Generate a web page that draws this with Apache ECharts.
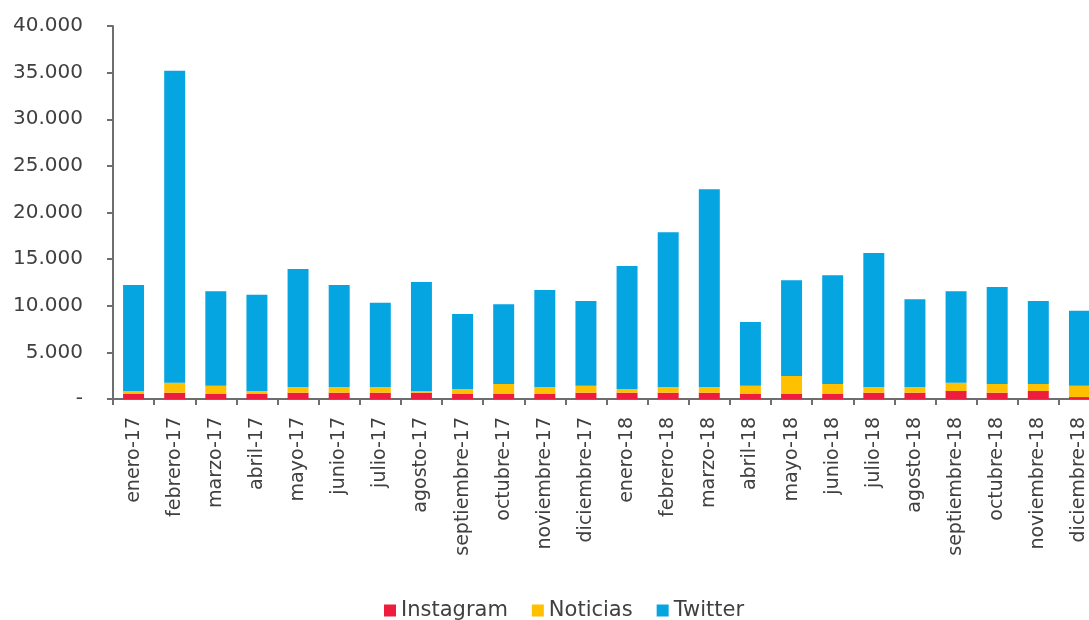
<!DOCTYPE html>
<html>
<head>
<meta charset="utf-8">
<script src="https://cdn.jsdelivr.net/npm/echarts@6/dist/echarts.min.js"></script>
<style>
  html, body { margin: 0; padding: 0; background: #ffffff; overflow: hidden; }
  /* canvas is a little wider than the window so the last column is cut at the edge */
  #chart { width: 1100px; height: 620px; }
</style>
</head>
<body>
<div id="chart"></div>
<script>
// Monthly mentions by source, stacked
const months = [
  'enero-17', 'febrero-17', 'marzo-17', 'abril-17', 'mayo-17', 'junio-17',
  'julio-17', 'agosto-17', 'septiembre-17', 'octubre-17', 'noviembre-17', 'diciembre-17',
  'enero-18', 'febrero-18', 'marzo-18', 'abril-18', 'mayo-18', 'junio-18',
  'julio-18', 'agosto-18', 'septiembre-18', 'octubre-18', 'noviembre-18', 'diciembre-18'
];
const instagram = [
  540, 680, 540, 540, 680, 680, 680, 680, 540, 540, 540, 680,
  680, 680, 680, 540, 540, 540, 680, 680, 860, 680, 860, 210
];
const noticias = [
  320, 1070, 890, 320, 570, 570, 570, 180, 530, 1070, 710, 750,
  390, 570, 570, 890, 1930, 1070, 570, 570, 890, 930, 750, 1220
];
const twitter = [
  11370, 33450, 10120, 10330, 12690, 10980, 9080, 11690, 8050, 8540, 10440, 9080,
  13190, 16630, 21240, 6830, 10260, 11660, 14410, 9440, 9800, 10400, 8900, 8040
];
const yTicks = { min: 0, max: 40000, step: 5000 };

const textColor = '#404040';
const axisColor = '#6e6e6e';
const font = 'DejaVu Sans';

function thousands(v) {
  if (v === 0) return '-';
  return String(v).replace(/\B(?=(\d{3})+(?!\d))/g, '.');
}

const chart = echarts.init(document.getElementById('chart'), null, { renderer: 'canvas' });

const bar = (name, data, color) => ({
  name, type: 'bar', stack: 'total', data,
  barWidth: '51%',
  itemStyle: { color },
  emphasis: { disabled: true }
});

chart.setOption({
  animation: false,
  textStyle: { fontFamily: font },
  grid: { left: 113, top: 26, right: 0, bottom: 221, containLabel: false },
  legend: {
    left: 379, top: 595,
    itemWidth: 12, itemHeight: 12, itemGap: 24,
    icon: 'rect',
    textStyle: { color: textColor, fontSize: 21, fontFamily: font },
    data: ['Instagram', 'Noticias', 'Twitter']
  },
  xAxis: {
    type: 'category',
    data: months,
    axisLine: { lineStyle: { color: axisColor, width: 2 } },
    axisTick: { show: true, length: 6, lineStyle: { color: axisColor, width: 2 } },
    axisLabel: {
      rotate: 90, interval: 0, margin: 18,
      color: textColor, fontSize: 19, fontFamily: font
    }
  },
  yAxis: {
    type: 'value',
    min: yTicks.min, max: yTicks.max, interval: yTicks.step,
    axisLine: { show: true, lineStyle: { color: axisColor, width: 2 } },
    axisTick: { show: true, length: 6, lineStyle: { color: axisColor, width: 2 } },
    splitLine: { show: false },
    axisLabel: {
      margin: 30, color: textColor, fontSize: 20, fontFamily: font,
      formatter: thousands
    }
  },
  series: [
    bar('Instagram', instagram, '#EE1D3E'),
    bar('Noticias', noticias, '#FFC000'),
    bar('Twitter', twitter, '#05A5E1')
  ]
});
</script>
</body>
</html>
